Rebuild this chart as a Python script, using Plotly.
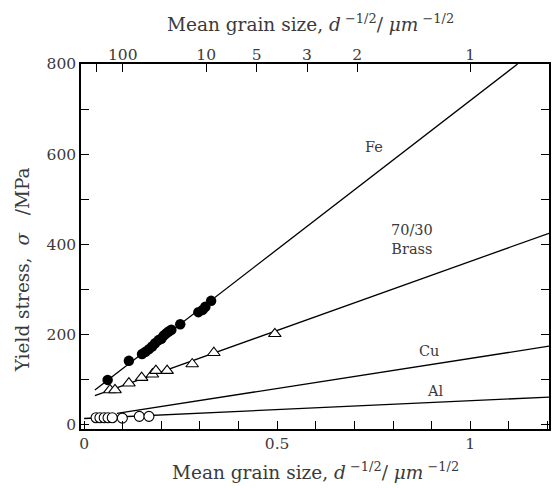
import numpy as np
import plotly.graph_objects as go

# ---- data ----
fe_x = [0.061, 0.116, 0.150, 0.159, 0.168, 0.176, 0.184, 0.193, 0.200, 0.206, 0.213, 0.219, 0.226, 0.249, 0.296, 0.307, 0.314, 0.329]
fe_y = [99.8, 142, 157, 162, 168, 174, 181, 188, 191, 198, 203, 207, 211, 223, 250, 255, 262, 275]

brass_x = [0.067, 0.080, 0.116, 0.149, 0.177, 0.186, 0.215, 0.280, 0.336, 0.494]
brass_y = [77.6, 77.6, 92.5, 104.9, 112.4, 120.4, 120.4, 135, 160, 202]

al_x = [0.031, 0.041, 0.052, 0.062, 0.073, 0.099, 0.143, 0.168]
al_y = [16, 16, 16, 16, 16, 15, 19, 19]

# Hall-Petch fit lines: sigma = sigma0 + k * d^-1/2
line_names = ["Fe", "Brass", "Cu", "Al"]
line_sigma0 = [59, 56.4, 14.4, 14.3]
line_k = [660, 306, 133, 39.4]
line_xstart = [0.028, 0.028, 0.085, 0.0]

# top axis: grain size d (um)
top_d = [1000, 100, 10, 5, 3, 2, 1]
top_labels = ["", "100", "10", "5", "3", "2", "1"]

label_text = ["Fe", "70/30<br>Brass", "Cu", "Al"]
label_x = [0.75, 0.85, 0.894, 0.91]
label_y = [616, 412, 164, 75]

XMIN, XMAX = -0.008, 1.204
YMIN, YMAX = -9, 800

FONT = "DejaVu Serif"
TXT = "#3a3a3a"
TICK = 15.5
TITLE = 18.5

fig = go.Figure()

for s0, k, xs in zip(line_sigma0, line_k, line_xstart):
    xe = min(XMAX, (YMAX - s0) / k)
    xx = np.array([xs, xe])
    fig.add_trace(go.Scatter(x=xx, y=s0 + k * xx, mode="lines",
                             line=dict(color="black", width=1.3),
                             showlegend=False, hoverinfo="skip"))

fig.add_trace(go.Scatter(x=fe_x, y=fe_y, mode="markers",
                         marker=dict(symbol="circle", size=10.5, color="black",
                                     line=dict(color="black", width=0)),
                         showlegend=False))
fig.add_trace(go.Scatter(x=brass_x, y=brass_y, mode="markers",
                         marker=dict(symbol="triangle-up", size=11, color="white",
                                     line=dict(color="black", width=1.1)),
                         showlegend=False))
fig.add_trace(go.Scatter(x=al_x, y=al_y, mode="markers",
                         marker=dict(symbol="circle", size=10, color="white",
                                     line=dict(color="black", width=1.1)),
                         showlegend=False))

# invisible trace on the top axis
fig.add_trace(go.Scatter(x=[0.5], y=[400], xaxis="x2", mode="markers",
                         marker=dict(opacity=0), showlegend=False, hoverinfo="skip"))

top_pos = [d ** -0.5 for d in top_d]

fig.update_layout(
    width=552, height=488,
    margin=dict(l=81, r=1, t=64, b=59),
    paper_bgcolor="white", plot_bgcolor="white",
    font=dict(family=FONT, size=TICK, color=TXT),
    xaxis=dict(range=[XMIN, XMAX], tickvals=[0, 0.5, 1], ticktext=["0", "0.5", "1"],
               ticks="inside", ticklen=8, tickwidth=1.2, tickcolor="black",
               minor=dict(dtick=0.1, tick0=0, ticks="inside", ticklen=8, tickwidth=1.2, tickcolor="black"),
               showline=True, linecolor="black", linewidth=1.5, mirror=True,
               showgrid=False, zeroline=False,
               tickfont=dict(family=FONT, size=TICK, color=TXT)),
    xaxis2=dict(range=[XMIN, XMAX], overlaying="x", side="top",
                tickvals=top_pos, ticktext=top_labels,
                ticks="inside", ticklen=8, tickwidth=1.2, tickcolor="black",
                showline=False, showgrid=False, zeroline=False,
                tickfont=dict(family=FONT, size=TICK, color=TXT)),
    yaxis=dict(range=[YMIN, YMAX], tickvals=[0, 200, 400, 600, 800],
               ticks="inside", ticklen=8, tickwidth=1.2, tickcolor="black",
               minor=dict(dtick=100, tick0=0, ticks="inside", ticklen=8, tickwidth=1.2, tickcolor="black"),
               showline=True, linecolor="black", linewidth=1.5, mirror="ticks",
               showgrid=False, zeroline=False,
               tickfont=dict(family=FONT, size=TICK, color=TXT)),
)

ann = []
for t, x, y in zip(label_text, label_x, label_y):
    ann.append(dict(text=t, x=x, y=y, xref="x", yref="y", showarrow=False,
                    font=dict(family=FONT, size=14.5, color=TXT)))
title_txt = "Mean grain size,&nbsp;<i>d</i><sup> −1/2</sup>/ <i>μm</i><sup> −1/2</sup>"
ann.append(dict(text=title_txt, x=0.5, y=-0.116, xref="paper", yref="paper",
                xanchor="center", yanchor="middle", showarrow=False,
                font=dict(family=FONT, size=TITLE, color=TXT)))
ann.append(dict(text=title_txt, x=0.49, y=1.112, xref="paper", yref="paper",
                xanchor="center", yanchor="middle", showarrow=False,
                font=dict(family=FONT, size=TITLE, color=TXT)))
ann.append(dict(text="Yield stress,&nbsp;&nbsp;<i>σ</i>&nbsp;&nbsp;&nbsp;/MPa", x=-0.1255, y=0.4356,
                xref="paper", yref="paper", xanchor="center", yanchor="middle",
                textangle=-90, showarrow=False,
                font=dict(family=FONT, size=TITLE, color=TXT)))
fig.update_layout(annotations=ann)

fig.write_html("out.html")
